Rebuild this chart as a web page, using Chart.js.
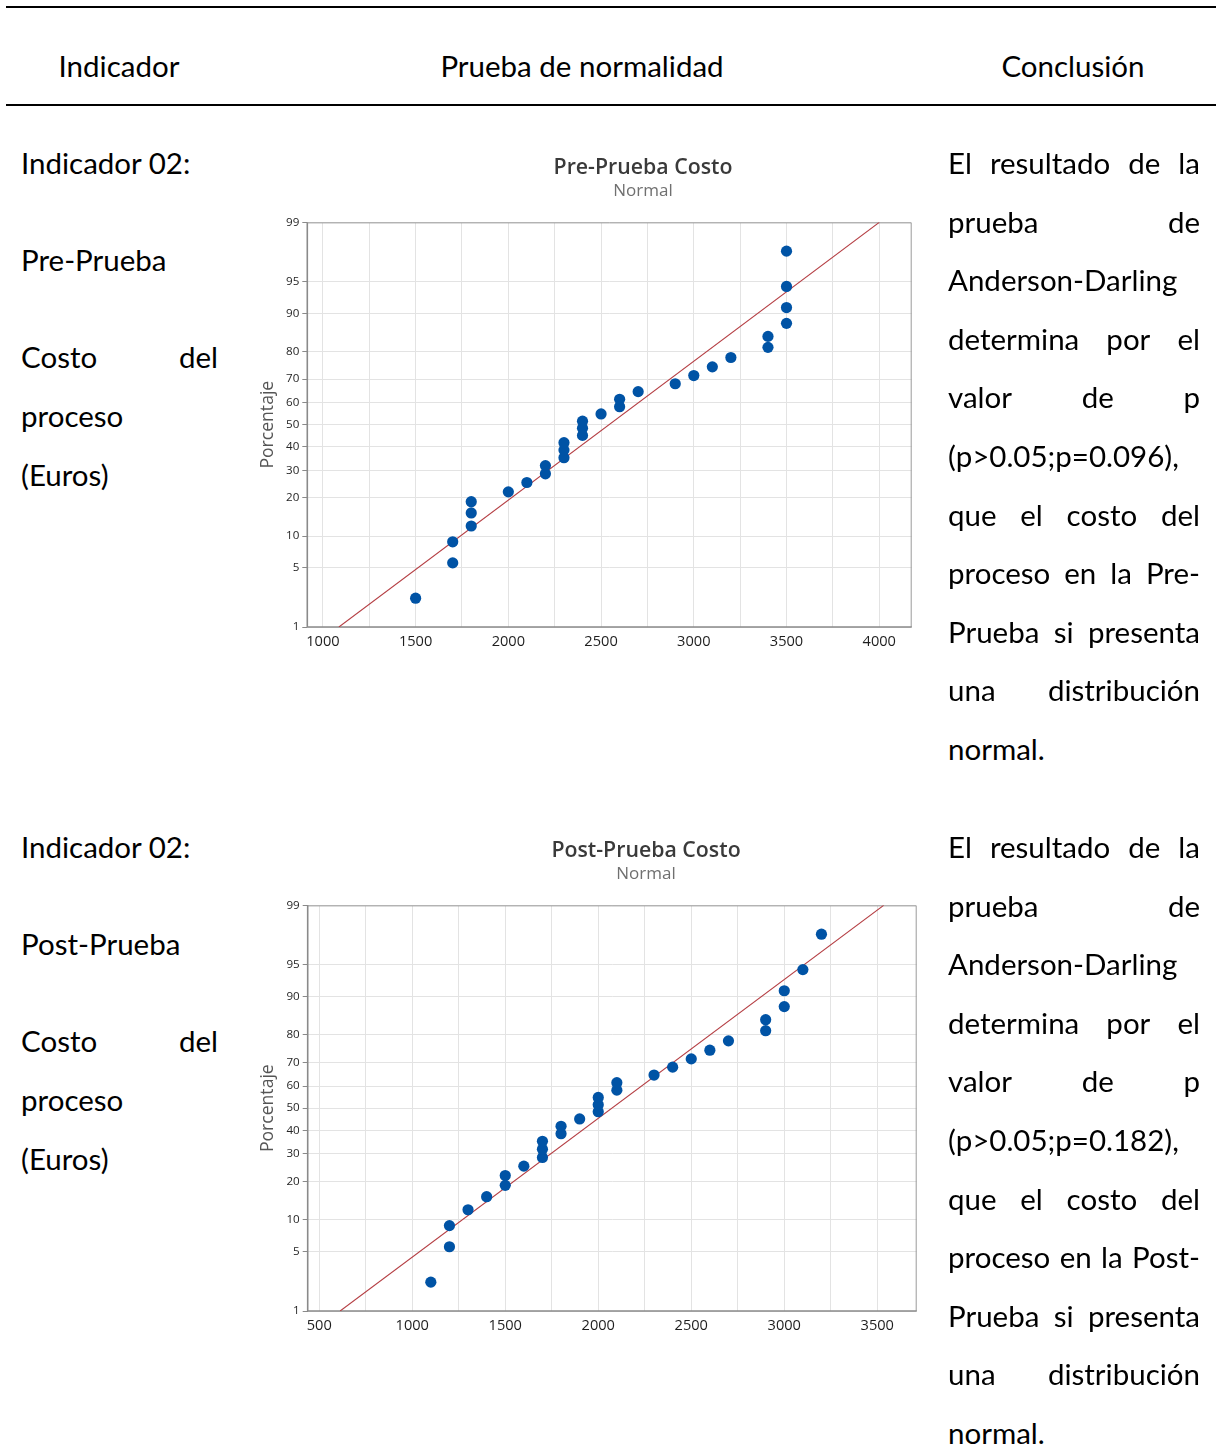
<!DOCTYPE html>
<html><head><meta charset="utf-8">
<script src="https://cdn.jsdelivr.net/npm/chart.js@4.4.1/dist/chart.umd.min.js"></script>
<style>
html,body{margin:0;padding:0;background:#fff;}
body{width:1216px;height:1448px;position:relative;overflow:hidden;font-family:Lato,'Open Sans',sans-serif;color:#000;}
.rule{position:absolute;left:6px;right:0;height:2px;background:#000;}
.t{position:absolute;font-size:29.5px;height:40px;line-height:40px;white-space:nowrap;z-index:2;}
.j{display:flex;justify-content:space-between;}
canvas{position:absolute;z-index:1;}
</style></head><body>
<div class="rule" style="top:6px"></div>
<div class="rule" style="top:104px"></div>
<canvas id="cPre" width="786" height="530" style="left:250px;top:140px"></canvas>
<canvas id="cPost" width="792" height="531" style="left:250px;top:823px"></canvas>
<script>
// ---------- data ----------
const preCost  = [1500,1700,1700,1800,1800,1800,2000,2100,2200,2200,2300,2300,2300,2400,2400,2400,2500,2600,2600,2700,2900,3000,3100,3200,3400,3400,3500,3500,3500,3500];
const prePct   = [2.3,5.6,8.9,12.2,15.5,18.8,22.0,25.3,28.6,31.9,35.2,38.5,41.8,45.1,48.4,51.6,54.9,58.2,61.5,64.8,68.1,71.4,74.7,78.0,81.3,84.5,87.8,91.1,94.4,97.7];
const postCost = [1100,1200,1200,1300,1400,1500,1500,1600,1700,1700,1700,1800,1800,1900,2000,2000,2000,2100,2100,2300,2400,2500,2600,2700,2900,2900,3000,3000,3100,3200];
const postPct  = [2.3,5.6,8.9,12.2,15.5,18.8,22.0,25.3,28.6,31.9,35.2,38.5,41.8,45.1,48.4,51.6,54.9,58.2,61.5,64.8,68.1,71.4,74.7,78.0,81.3,84.5,87.8,91.1,94.4,97.7];
const yTickPercents = [1,5,10,20,30,40,50,60,70,80,90,95,99];
const xGridStep = 250;
const xLabelStep = 500;
const preXRange = [916, 4175];
const postXRange = [438, 3712];

const headers = ["Indicador", "Prueba de normalidad", "Conclusión"];
const leftPre  = ["Indicador 02:", "Pre-Prueba", "Costo del", "proceso", "(Euros)"];
const leftPost = ["Indicador 02:", "Post-Prueba", "Costo del", "proceso", "(Euros)"];
const leftJust = [0,0,1,0,0];
const conclPre  = ["El resultado de la","prueba de","Anderson-Darling","determina por el","valor de p","(p>0.05;p=0.096),","que el costo del","proceso en la Pre-","Prueba si presenta","una distribución","normal."];
const conclPost = ["El resultado de la","prueba de","Anderson-Darling","determina por el","valor de p","(p>0.05;p=0.182),","que el costo del","proceso en la Post-","Prueba si presenta","una distribución","normal."];
const conclJust = [1,1,0,1,1,0,1,1,1,1,0];

// ---------- text table ----------
function addText(txt, x, y, mode, w){
  const d = document.createElement('div');
  d.className = 't';
  d.style.top = (y - 20) + 'px';
  if (mode === 'j') {
    d.classList.add('j');
    d.style.left = x + 'px'; d.style.width = w + 'px';
    txt.split(' ').forEach(wd => { const s = document.createElement('span'); s.textContent = wd; d.appendChild(s); });
  } else if (mode === 'c') {
    d.style.left = (x - 300) + 'px'; d.style.width = '600px'; d.style.textAlign = 'center'; d.textContent = txt;
  } else {
    d.style.left = x + 'px'; d.textContent = txt;
  }
  document.body.appendChild(d);
}
addText(headers[0], 119, 66, 'c');
addText(headers[1], 582, 66, 'c');
addText(headers[2], 1073, 66, 'c');
const leftOffsets = [0, 97, 194, 253, 312];
[[leftPre, conclPre, 163], [leftPost, conclPost, 847]].forEach(([L, C, base]) => {
  L.forEach((t, i) => addText(t, 21, base + leftOffsets[i], leftJust[i] ? 'j' : 'l', 197));
  C.forEach((t, i) => addText(t, 948, base + i * 58.6, conclJust[i] ? 'j' : 'l', 252));
});

// ---------- probability scale ----------
function probit(p){
  const a=[-3.969683028665376e+01,2.209460984245205e+02,-2.759285104469687e+02,1.383577518672690e+02,-3.066479806614716e+01,2.506628277459239e+00];
  const b=[-5.447609879822406e+01,1.615858368580409e+02,-1.556989798598866e+02,6.680131188771972e+01,-1.328068155288572e+01];
  const c=[-7.784894002430293e-03,-3.223964580411365e-01,-2.400758277161838e+00,-2.549732539343734e+00,4.374664141464968e+00,2.938163982698783e+00];
  const d=[7.784695709041462e-03,3.224671290700398e-01,2.445134137142996e+00,3.754408661907416e+00];
  const pl=0.02425, ph=1-pl; let q,r;
  if(p<pl){q=Math.sqrt(-2*Math.log(p));return (((((c[0]*q+c[1])*q+c[2])*q+c[3])*q+c[4])*q+c[5])/((((d[0]*q+d[1])*q+d[2])*q+d[3])*q+1);}
  if(p<=ph){q=p-0.5;r=q*q;return (((((a[0]*r+a[1])*r+a[2])*r+a[3])*r+a[4])*r+a[5])*q/(((((b[0]*r+b[1])*r+b[2])*r+b[3])*r+b[4])*r+1);}
  q=Math.sqrt(-2*Math.log(1-p));return -(((((c[0]*q+c[1])*q+c[2])*q+c[3])*q+c[4])*q+c[5])/((((d[0]*q+d[1])*q+d[2])*q+d[3])*q+1);
}
function ncdf(z){ const t=1/(1+0.2316419*Math.abs(z)); const dd=0.3989423*Math.exp(-z*z/2);
  let p=dd*t*(0.3193815+t*(-0.3565638+t*(1.781478+t*(-1.821256+t*1.330274)))); return z>0?1-p:p; }

class ProbabilityScale extends Chart.Scale {
  static id = 'probability';
  static defaults = {};
  determineDataLimits(){ this.min = this.options.min; this.max = this.options.max; }
  buildTicks(){ return (this.options.tickValues || []).map(v => ({value: v})); }
  getLabelForValue(v){ return String(v); }
  configure(){ super.configure(); this._z0 = probit(this.min/100); this._z1 = probit(this.max/100); }
  getPixelForValue(v){ return this.getPixelForDecimal((probit(v/100) - this._z0) / (this._z1 - this._z0)); }
  getPixelForTick(i){ return this.getPixelForValue(this.ticks[i].value); }
  getValueForPixel(px){ const dd = this.getDecimalForPixel(px); return 100 * ncdf(this._z0 + dd * (this._z1 - this._z0)); }
}
Chart.register(ProbabilityScale);

const framePlugin = {
  id: 'frame',
  beforeDatasetsDraw(chart){
    const {ctx, chartArea: a} = chart;
    ctx.save();
    ctx.strokeStyle = '#9a9a9a'; ctx.lineWidth = 1;
    ctx.beginPath(); ctx.moveTo(a.left, a.top + 0.5); ctx.lineTo(a.right - 0.5, a.top + 0.5); ctx.lineTo(a.right - 0.5, a.bottom); ctx.stroke();
    ctx.strokeStyle = '#8a8a8a'; ctx.lineWidth = 1.6;
    ctx.beginPath(); ctx.moveTo(a.left, a.top); ctx.lineTo(a.left, a.bottom); ctx.lineTo(a.right, a.bottom); ctx.stroke();
    ctx.restore();
  }
};

function meanSd(arr){ const m = arr.reduce((s,v)=>s+v,0)/arr.length; const v = arr.reduce((s,x)=>s+(x-m)*(x-m),0)/(arr.length-1); return [m, Math.sqrt(v)]; }

function gridTicks(scale){
  const out = [];
  for (let v = Math.ceil(scale.min / xGridStep) * xGridStep; v <= scale.max; v += xGridStep) out.push({value: v});
  scale.ticks = out;
}

function makeChart(id, title, cost, pct, xRange, lay){
  const [m, sd] = meanSd(cost);
  const pLo = yTickPercents[0], pHi = yTickPercents[yTickPercents.length-1];
  const fit = [{x: m + probit(pLo/100)*sd, y: pLo}, {x: m + probit(pHi/100)*sd, y: pHi}];
  const ff = "'Open Sans', sans-serif";
  return new Chart(document.getElementById(id), {
    type: 'scatter',
    data: { datasets: [
      { data: cost.map((c,i)=>({x:c, y:pct[i]})), backgroundColor: '#0053a5', borderWidth: 0, pointRadius: 5.6, pointHoverRadius: 5.6 },
      { data: fit, showLine: true, borderColor: '#b53f44', borderWidth: 1.1, pointRadius: 0, pointHoverRadius: 0 }
    ]},
    options: {
      responsive: false, animation: false, devicePixelRatio: 1,
      layout: { padding: 0 },
      plugins: {
        legend: { display: false }, tooltip: { enabled: false },
        title: { display: true, text: title, color: '#3a3a3a', font: { family: ff, size: 21.3, weight: '600', lineHeight: 1.2 }, padding: { top: 15.2, bottom: 0 } },
        subtitle: { display: true, text: 'Normal', color: '#707070', font: { family: ff, size: 17, lineHeight: 1.2 }, padding: { top: 0.4, bottom: 20.8 } }
      },
      scales: {
        x: {
          type: 'linear', position: 'bottom', min: xRange[0], max: xRange[1],
          afterFit: s => { s.height = lay.xH; },
          afterBuildTicks: gridTicks,
          grid: { color: '#e3e3e3', lineWidth: 1, drawTicks: false },
          border: { display: false },
          ticks: { autoSkip: false, maxRotation: 0, minRotation: 0, padding: 6.5, color: '#1e1e1e',
                   font: { family: ff, size: 14.6 },
                   callback: v => (Math.round(v) % xLabelStep === 0 ? String(v) : '') }
        },
        y: {
          type: 'probability', position: 'left', min: pLo, max: pHi, tickValues: yTickPercents,
          afterFit: s => { s.width = lay.yW; },
          grid: { color: '#e3e3e3', lineWidth: 1, drawTicks: true, tickLength: 5, tickColor: '#8a8a8a' },
          border: { display: false },
          ticks: { padding: 3, color: '#262626', font: { family: ff, size: 11.6 }, callback: v => String(v) },
          title: { display: true, text: 'Porcentaje', color: '#555', font: { family: ff, size: 17.6, lineHeight: 1.2 }, padding: { top: 7.7, bottom: 0 } }
        },
        yPad: {
          type: 'linear', position: 'right', display: true,
          afterFit: s => { s.width = lay.rW; },
          grid: { display: false }, border: { display: false }, ticks: { display: false }
        }
      }
    },
    plugins: [framePlugin]
  });
}

function drawAll(){
  makeChart('cPre', 'Pre-Prueba Costo', preCost, prePct, preXRange, { yW: 57.3, xH: 43, rW: 124.3 });
  makeChart('cPost', 'Post-Prueba Costo', postCost, postPct, postXRange, { yW: 57.7, xH: 43, rW: 125.3 });
}
Promise.all([
  document.fonts.load("600 20px 'Open Sans'"), document.fonts.load("14px 'Open Sans'"), document.fonts.load("29px Lato")
]).then(drawAll, drawAll);
</script>
</body></html>
